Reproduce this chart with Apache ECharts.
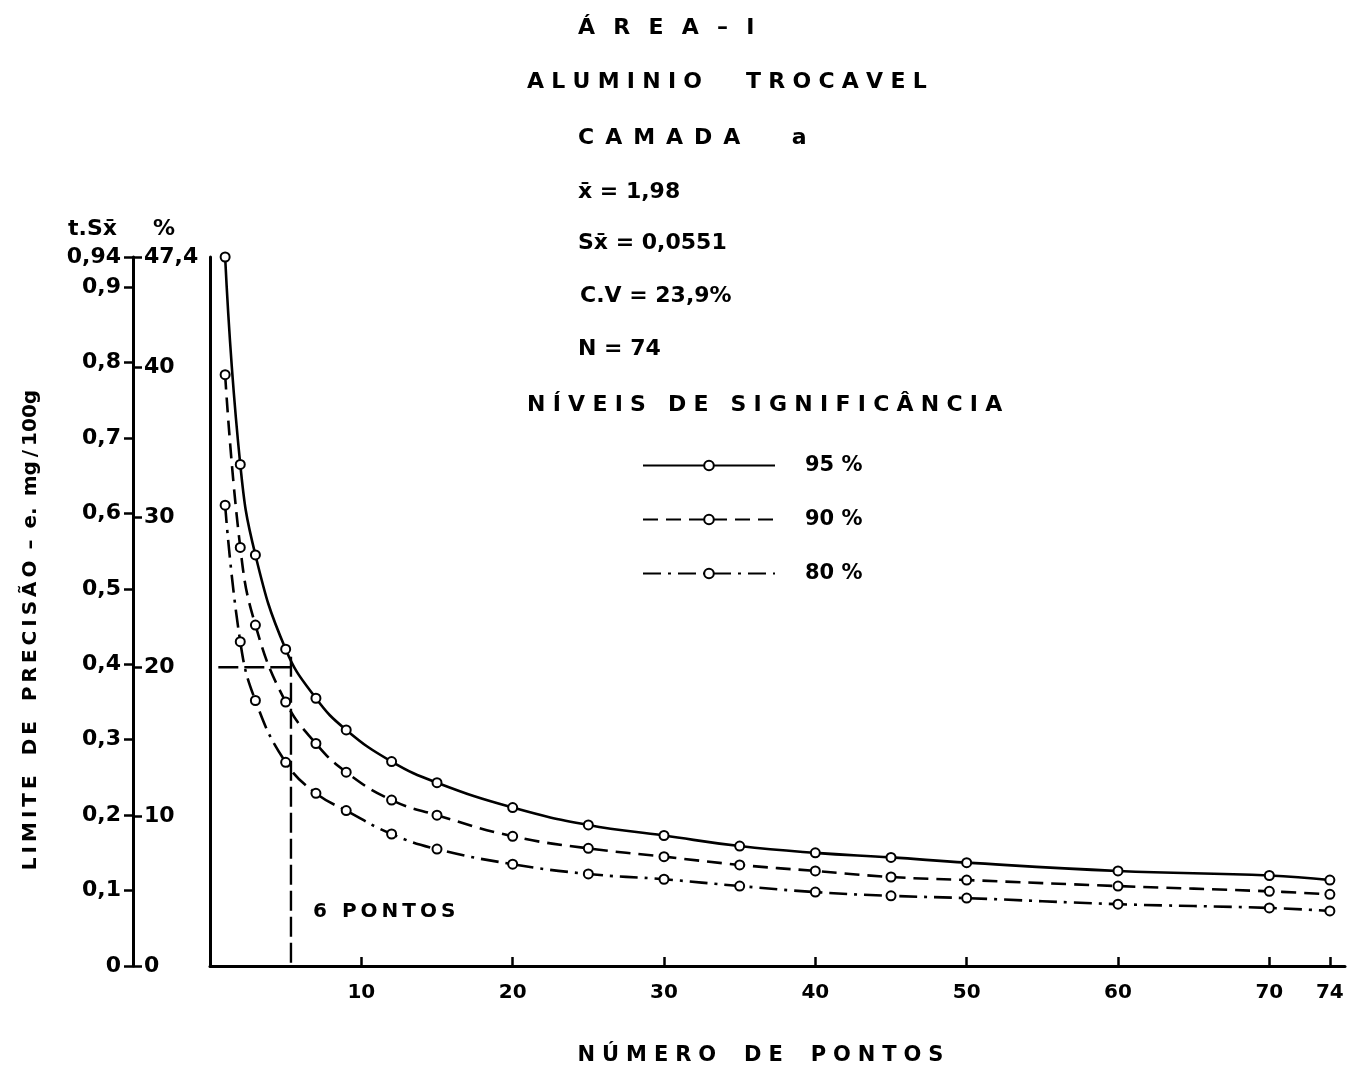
<!DOCTYPE html>
<html><head><meta charset="utf-8">
<script src="https://cdn.jsdelivr.net/npm/echarts@6/dist/echarts.min.js"></script>
<style>html,body{margin:0;padding:0;background:#fff}#c{width:1353px;height:1071px}</style>
</head><body><div id="c"></div>
<script>
// ---- data ----
const pontos   = [1, 2, 3, 5, 7, 9, 12, 15, 20, 25, 30, 35, 40, 45, 50, 60, 70, 74];
const nivel95  = [0.94, 0.665, 0.545, 0.42, 0.355, 0.313, 0.271, 0.243, 0.21, 0.187, 0.173, 0.159, 0.150, 0.144, 0.137, 0.126, 0.120, 0.114];
const nivel90  = [0.784, 0.555, 0.452, 0.35, 0.295, 0.257, 0.22, 0.2, 0.172, 0.156, 0.145, 0.134, 0.126, 0.118, 0.114, 0.106, 0.099, 0.095];
const nivel80  = [0.611, 0.43, 0.352, 0.27, 0.229, 0.206, 0.175, 0.155, 0.135, 0.122, 0.115, 0.106, 0.098, 0.093, 0.09, 0.082, 0.077, 0.073];
const seriesNames = ['95 %', '90 %', '80 %'];
const xTickValues = [10, 20, 30, 40, 50, 60, 70, 74];
const yTickValues = [0, 0.1, 0.2, 0.3, 0.4, 0.5, 0.6, 0.7, 0.8, 0.9, 0.94];
const pctTickValues = [0, 10, 20, 30, 40, 47.4];
const guidePontos = 5.35;
const guideLimite = 0.396;
const guideStartX = 0.55;
const guideTopY = 0.41;
const titleLines = [
  'Á\u2002\u2004R\u2002\u2004E\u2002\u2004A\u2002\u2004–\u2002\u2004I',
  'A\u2004L\u2004U\u2004M\u2004I\u2004N\u2004I\u2004O\u2003\u2003T\u2004R\u2004O\u2004C\u2004A\u2004V\u2004E\u2004L',
  'C\u2002A\u2002M\u2002A\u2002D\u2002A\u2003\u2003\u2004a',
  'x̄ = 1,98',
  'Sx̄ = 0,0551',
  'C.V = 23,9%',
  'N = 74',
  'N\u2004Í\u2004V\u2004E\u2004I\u2004S\u2003D\u2004E\u2003S\u2004I\u2004G\u2004N\u2004I\u2004F\u2004I\u2004C\u2004Â\u2004N\u2004C\u2004I\u2004A'
];
const yName = 'L\u2009I\u2009M\u2009I\u2009T\u2009E\u2003D\u2009E\u2003P\u2009R\u2009E\u2009C\u2009I\u2009S\u2009Ã\u2009O\u2009 – \u2009e.\u2009 mg\u2009/\u2009100g';
const xName = 'N\u2004Ú\u2004M\u2004E\u2004R\u2004O\u2003\u2004D\u2004E\u2003\u2004P\u2004O\u2004N\u2004T\u2004O\u2004S';
const guideText = '6\u2002\u2005P\u2009O\u2009N\u2009T\u2009O\u2009S';

// ---- chart ----
const FONT = 'DejaVu Sans';
const W = 'bold';
const fmt = v => String(v).replace('.', ',');
const chart = echarts.init(document.getElementById('c'), null, {renderer: 'canvas'});

const titleX = [578, 527, 578, 578, 578, 580, 578, 527];
const titleY = [28, 82, 138, 192, 243, 296, 349, 405];
const graphics = titleLines.map((t, i) => ({
  type: 'text', x: titleX[i], y: titleY[i],
  style: {text: t, fill: '#000', fontSize: 22, fontWeight: W, fontFamily: FONT, textAlign: 'left', textVerticalAlign: 'middle'}
}));
graphics.push({type: 'text', x: 31, y: 630, rotation: Math.PI / 2,
  style: {text: yName, fill: '#000', fontSize: 20, fontWeight: W, fontFamily: FONT, textAlign: 'center', textVerticalAlign: 'middle'}});
graphics.push({type: 'text', x: 313, y: 912,
  style: {text: guideText, fill: '#000', fontSize: 20, fontWeight: W, fontFamily: FONT, textAlign: 'left', textVerticalAlign: 'middle'}});

const common = {
  type: 'line', smooth: 0.45, symbol: 'circle', symbolSize: 9,
  itemStyle: {color: '#fff', borderColor: '#000', borderWidth: 2},
  emphasis: {disabled: true}, z: 3
};
const styles = [
  {color: '#000', width: 2.6, type: 'solid'},
  {color: '#000', width: 2.6, type: [15, 8]},
  {color: '#000', width: 2.6, type: [18, 7, 3, 7]}
];
const values = [nivel95, nivel90, nivel80];
const series = values.map((vals, k) => Object.assign({}, common, {
  name: seriesNames[k], data: pontos.map((n, i) => [n, vals[i]]), lineStyle: styles[k]
}));
const guideStyle = {color: '#000', width: 2.4, type: [20, 6]};
series.push({type: 'line', name: 'guiaH', data: [[guideStartX, guideLimite], [guidePontos, guideLimite]],
  symbol: 'none', lineStyle: guideStyle, silent: true, z: 2});
series.push({type: 'line', name: 'guiaV', data: [[guidePontos, guideTopY], [guidePontos, 0]],
  symbol: 'none', lineStyle: guideStyle, silent: true, z: 2});

const axisLine = {show: true, onZero: false, lineStyle: {color: '#000', width: 3}};
const tickStyle = {color: '#000', width: 2.5};
const labelStyle = {color: '#000', fontSize: 22, fontWeight: W, fontFamily: FONT};

chart.setOption({
  animation: false,
  backgroundColor: '#fff',
  grid: {left: 210, top: 257, width: 1135, height: 709, containLabel: false, outerBoundsMode: 'none'},
  legend: {
    orient: 'vertical', left: 637, top: 450, itemWidth: 132, itemHeight: 12, itemGap: 33,
    data: seriesNames, selectedMode: false,
    textStyle: {color: '#000', fontSize: 21, fontWeight: W, fontFamily: FONT, padding: [0, 0, 0, 25]}
  },
  xAxis: {
    type: 'value', min: 0, max: 75,
    axisLine: axisLine,
    axisTick: {show: true, inside: true, length: 9, lineStyle: tickStyle, customValues: xTickValues},
    axisLabel: Object.assign({customValues: xTickValues, margin: 17}, labelStyle, {fontSize: 20}),
    splitLine: {show: false},
    name: xName, nameLocation: 'middle', nameGap: 79,
    nameTextStyle: {color: '#000', fontSize: 21, fontWeight: W, fontFamily: FONT, padding: [0, 34, 0, 0]}
  },
  yAxis: [
    {
      type: 'value', min: 0, max: 0.94, position: 'left', offset: 77,
      axisLine: axisLine,
      axisTick: {show: true, length: 9, lineStyle: tickStyle, customValues: yTickValues},
      axisLabel: Object.assign({customValues: yTickValues, formatter: fmt, margin: 12}, labelStyle),
      splitLine: {show: false},
      name: 't.Sx̄', nameLocation: 'end', nameGap: 17,
      nameTextStyle: {color: '#000', fontSize: 22, fontWeight: W, fontFamily: FONT, align: 'right', padding: [0, 16, 0, 0]}
    },
    {
      type: 'value', min: 0, max: 47.4, position: 'left', offset: 77,
      axisLine: {show: false, onZero: false},
      axisTick: {show: true, inside: true, length: 9, lineStyle: tickStyle, customValues: pctTickValues},
      axisLabel: Object.assign({inside: true, customValues: pctTickValues, formatter: fmt, margin: 11}, labelStyle),
      splitLine: {show: false},
      name: '%', nameLocation: 'end', nameGap: 17,
      nameTextStyle: {color: '#000', fontSize: 22, fontWeight: W, fontFamily: FONT, align: 'left', padding: [0, 0, 0, 20]}
    },
    {
      type: 'value', min: 0, max: 0.94, position: 'left', offset: 0,
      axisLine: axisLine, axisTick: {show: false}, axisLabel: {show: false}, splitLine: {show: false}
    }
  ],
  series: series,
  graphic: graphics
});
</script></body></html>
